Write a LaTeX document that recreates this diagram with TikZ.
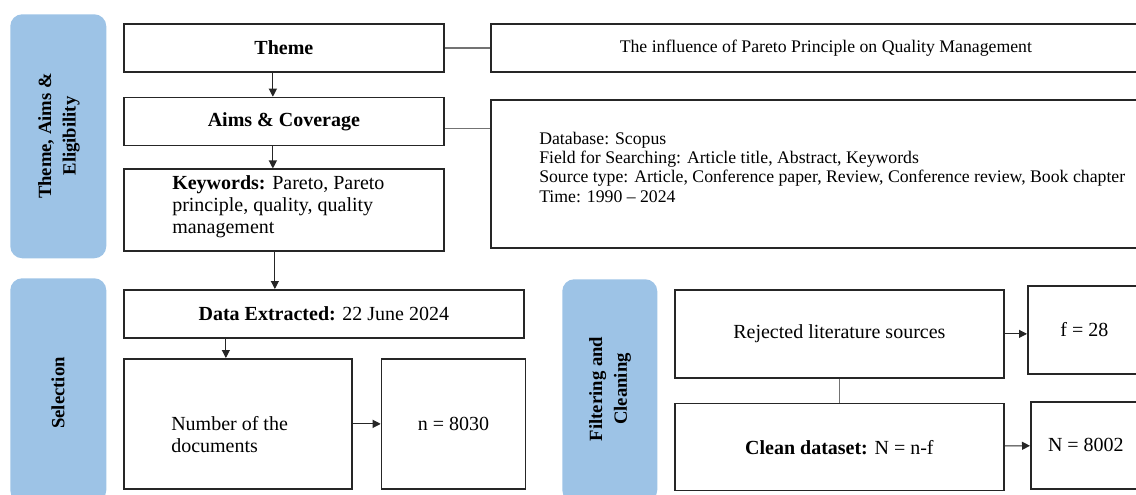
\documentclass[tikz,border=0pt]{standalone}
\usepackage{fontspec}
\setmainfont{Liberation Serif}
\usepackage{tikz}
\usetikzlibrary{positioning}
\usetikzlibrary{arrows.meta}
\usetikzlibrary{calc}
\definecolor{panelblue}{RGB}{157,195,230}
\definecolor{linegray}{RGB}{115,115,115}
\tikzset{box/.style={draw=black!85,line width=1.3pt,fill=white,anchor=north west,inner sep=0pt,font=\fontsize{15}{16}\selectfont},
  panel/.style={fill=panelblue,rounded corners=9pt,anchor=north west,inner sep=0pt},
  panel text/.style={rotate=90,align=center,font=\fontsize{14}{18.5}\selectfont\bfseries},
  small text/.style={font=\fontsize{13.3}{14.5}\selectfont},
  plain text/.style={align=left,inner sep=0pt,anchor=west,font=\fontsize{15}{16.5}\selectfont},
  arr/.style={-{Triangle[length=6pt,width=6pt]},line width=0.8pt,black!85},
  link/.style={line width=1pt,linegray},}

\begin{document}
\begin{tikzpicture}[x=0.75pt,y=-0.75pt]
    \useasboundingbox (0,0) rectangle (1136,494);
    \clip (0,0) rectangle (1136,494);

    % side panels
    \node[panel, minimum width=72pt, minimum height=183pt] (themepanel) at (10,14) {};
    \node[panel, minimum width=72pt, minimum height=168pt] (selpanel) at (10,278) {};
    \node[panel, minimum width=71.25pt, minimum height=167pt] (filtpanel) at (562,279) {};
    \node[panel text] (themepanel text) at (59,136) {Theme, Aims \&\\Eligibility};
    \node[panel text] (selpanel text) at (58,393) {Selection};
    \node[panel text] (filtpanel text) at (610,389) {Filtering and\\Cleaning};

    % theme, aims and keywords
    \node[box, minimum width=240pt, minimum height=36pt] (theme) at (123,23) {\textbf{Theme}};
    \node[box, minimum width=240pt, minimum height=36pt, below=18pt of theme] (aims) {\textbf{Aims \& Coverage}};
    \node[box, minimum width=240pt, minimum height=61.5pt, below=16.5pt of aims] (keywords) {};
    \node[plain text] (keywords text) at (172,207) {\textbf{Keywords:} Pareto, Pareto\\principle, quality, quality\\management};

    \node[box, small text, minimum width=502.5pt, minimum height=36pt] (topic) at (490,23) {The influence of Pareto Principle on Quality Management};
    \node[box, minimum width=570pt, minimum height=111pt] (search) at (490,99) {};
    \node[plain text, small text] (search text) at (539,167) {Database: Scopus\\Field for Searching: Article title, Abstract, Keywords\\Source type: Article, Conference paper, Review, Conference review, Book chapter\\Time: 1990 -- 2024};

    % selection
    \node[box, minimum width=300pt, minimum height=36pt] (data) at (123,289) {\textbf{Data Extracted:} 22 June 2024};
    \node[box, minimum width=171pt, minimum height=97.5pt] (docs) at (123,358) {};
    \node[plain text] (docs text) at (171,435) {Number of the\\documents};
    \node[box, minimum width=108pt, minimum height=97.5pt, right=21pt of docs] (count) {n = 8030};

    % filtering and cleaning
    \node[box, minimum width=246.75pt, minimum height=66pt] (rejected) at (674,289) {Rejected literature sources};
    \node[box, minimum width=246.75pt, minimum height=65.25pt, below=18pt of rejected] (clean) {\textbf{Clean dataset:} N = n-f};
    \node[box, minimum width=84.75pt, minimum height=66pt] (rejcount) at (1027,285) {f = 28};
    \node[box, minimum width=82.5pt, minimum height=65.25pt] (cleancount) at (1030,401) {N = 8002};

    % connectors
    \draw[link] (theme) -- (topic);
    \draw[link] ([yshift=-5.25pt]aims.east) -- ([yshift=-5.25pt]aims.east -| search.west);
    \draw[link] (rejected) -- (clean);
    \draw[arr] ([xshift=-8.25pt]theme.south) -- ([xshift=-8.25pt]aims.north);
    \draw[arr] ([xshift=-8.25pt]aims.south) -- ([xshift=-8.25pt]keywords.north);
    \draw[arr] ([xshift=-6.75pt]keywords.south) -- ([xshift=-6.75pt]keywords.south |- data.north);
    \draw[arr] ([xshift=-9pt]docs.north |- data.south) -- ([xshift=-9pt]docs.north);
    \draw[arr] (docs) -- (count);
    \draw[arr] (rejected.east) -- (rejected.east -| rejcount.west);
    \draw[arr] (clean) -- (cleancount);
\end{tikzpicture}
\end{document}
